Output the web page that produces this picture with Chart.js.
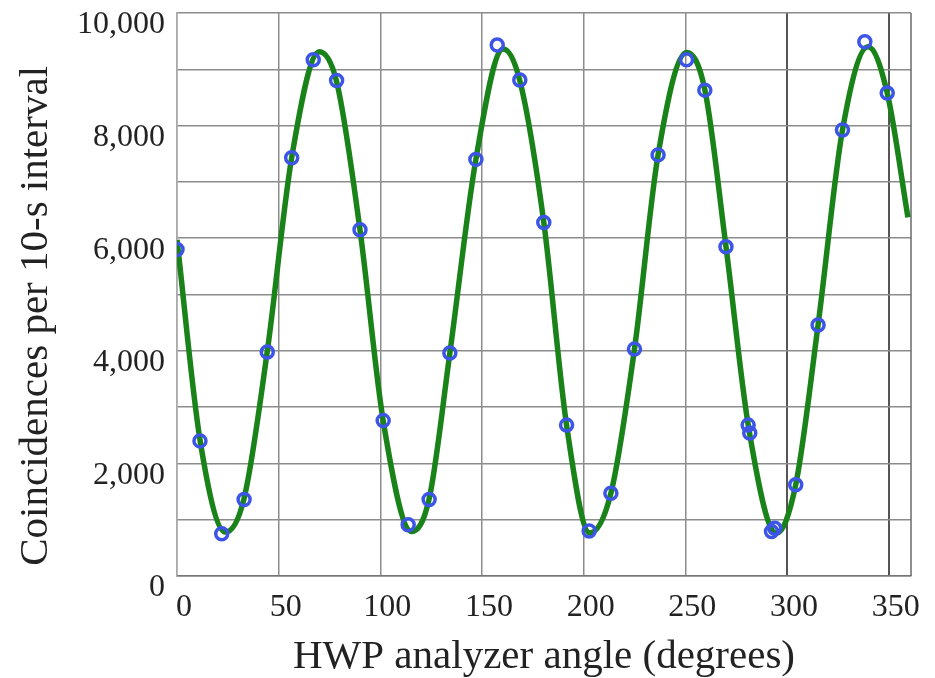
<!DOCTYPE html>
<html>
<head>
<meta charset="utf-8">
<script src="https://cdn.jsdelivr.net/npm/chart.js@4.4.1/dist/chart.umd.min.js"></script>
<style>
    body { margin: 0; background: #fff; }
    #grafico { width: 935px; height: 678px; }
</style>
</head>
<body>
<div id="grafico"><canvas id="chartHwp"></canvas></div>
<script>
// pontos medidos (angulo do analisador, coincidencias)
const angulosMedidos = [0, 11.3, 22, 33, 44.4, 56.4, 67, 78.5, 90, 101.4, 113.7, 124, 134.2, 147, 157.5, 168.6,
    180.4, 191.6, 202.7, 213.4, 225, 236.6, 250.6, 259.6, 270, 280.9, 281.7, 292.4, 294, 304.3, 315.3, 327.3, 338.3, 349.3];
const contagensMedidas = [5800, 2400, 750, 1360, 3980, 7430, 9170, 8800, 6150, 2760, 910, 1360, 3960, 7400, 9430, 8810,
    6280, 2680, 800, 1470, 4030, 7480, 9170, 8630, 5850, 2680, 2540, 790, 850, 1620, 4460, 7920, 9490, 8580];

// curva ajustada
const angulosCurva = [0, 11.3, 23.8, 33, 44.4, 56.4, 70, 78.5, 90, 101.4, 115.4, 124, 134.2, 147, 160.4, 168.6,
    180.4, 191.6, 203, 213.4, 225, 236.6, 250.6, 259.6, 270, 281.3, 294.8, 304.3, 315.3, 327.3, 339.9, 349.3, 359.5];
const contagensCurva = [5970, 2420, 780, 1380, 3990, 7430, 9310, 8780, 6150, 2760, 790, 1370, 3960, 7400, 9360, 8800,
    6280, 2680, 765, 1470, 4030, 7480, 9300, 8640, 5850, 2600, 760, 1620, 4460, 7920, 9400, 8580, 6370];

const ticksX = [0, 50, 100, 150, 200, 250, 300, 350];

function montarPontos(xs, ys) {
    var lista = [];
    for (var i = 0; i < xs.length; i++) {
        lista.push({ x: xs[i], y: ys[i] });
    }
    return lista;
}

// linha da borda direita do grafico
const bordaDireita = {
    id: 'bordaDireita',
    beforeDatasetsDraw(chart) {
        const a = chart.chartArea;
        const c = chart.ctx;
        c.save();
        c.strokeStyle = '#6a6a6a';
        c.lineWidth = 1.5;
        c.beginPath();
        c.moveTo(a.right, a.top);
        c.lineTo(a.right, a.bottom);
        c.stroke();
        c.restore();
    }
};

const fonteSerif = 'Liberation Serif';

const ctxHwp = document.getElementById('chartHwp');
var chartHwp = new Chart(ctxHwp, {
    type: 'scatter',
    data: {
        datasets: [{
            label: 'medidas',
            data: montarPontos(angulosMedidos, contagensMedidas),
            showLine: false,
            pointRadius: 6,
            pointBorderWidth: 3.5,
            pointBorderColor: 'rgb(60, 85, 230)',
            pointBackgroundColor: 'rgba(0,0,0,0)'
        }, {
            label: 'ajuste',
            data: montarPontos(angulosCurva, contagensCurva),
            showLine: true,
            borderColor: 'rgb(25, 130, 25)',
            borderWidth: 5.5,
            pointRadius: 0,
            cubicInterpolationMode: 'monotone'
        }]
    },
    options: {
        responsive: true,
        maintainAspectRatio: false,
        animation: false,
        layout: {
            padding: { top: 13, right: 24, left: 0, bottom: 0 }
        },
        plugins: {
            legend: { display: false },
            tooltip: { enabled: false }
        },
        scales: {
            x: {
                type: 'linear',
                min: 0,
                max: 361,
                afterBuildTicks: function (scale) {
                    scale.ticks = ticksX.map(function (v) { return { value: v }; });
                },
                afterFit: function (scale) {
                    scale.height = 102;
                    scale.paddingLeft = 0;
                    scale.paddingRight = 0;
                },
                ticks: {
                    color: '#222',
                    padding: 12,
                    labelOffset: 7,
                    maxRotation: 0,
                    font: { family: fonteSerif, size: 32 }
                },
                grid: {
                    drawTicks: false,
                    color: function (ctx) {
                        return ctx.tick && ctx.tick.value >= 300 ? '#555' : '#8c8c8c';
                    },
                    lineWidth: function (ctx) {
                        return ctx.tick && ctx.tick.value >= 300 ? 2 : 1.5;
                    }
                },
                border: { color: '#777', width: 1.5 },
                title: {
                    display: true,
                    text: 'HWP analyzer angle (degrees)',
                    color: '#222',
                    font: { family: fonteSerif, size: 41, lineHeight: 1 },
                    padding: { top: 0, bottom: 0 }
                }
            },
            y: {
                min: 0,
                max: 10000,
                afterFit: function (scale) {
                    scale.width = 177;
                    scale.paddingTop = 0;
                    scale.paddingBottom = 0;
                },
                ticks: {
                    stepSize: 1000,
                    color: '#222',
                    padding: 12,
                    labelOffset: 12,
                    font: { family: fonteSerif, size: 32 },
                    callback: function (v) {
                        return v % 2000 === 0 ? v.toLocaleString('en-US') : '';
                    }
                },
                grid: {
                    drawTicks: false,
                    color: '#8c8c8c',
                    lineWidth: 1.5
                },
                border: { color: '#aaa', width: 1.5 },
                title: {
                    display: true,
                    align: 'start',
                    text: ' Coincidences per 10-s interval',
                    color: '#222',
                    font: { family: fonteSerif, size: 41, lineHeight: 1 },
                    padding: { top: 16, bottom: 0 }
                }
            }
        }
    },
    plugins: [bordaDireita]
});
</script>
</body>
</html>
